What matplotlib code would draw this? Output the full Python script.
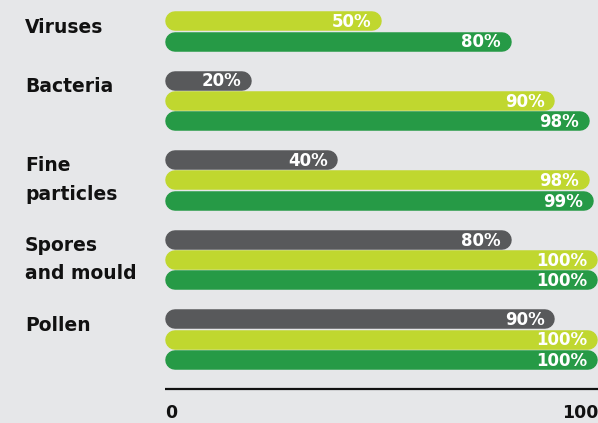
import matplotlib.pyplot as plt
import numpy as np

# data
categories = ['Viruses', 'Bacteria', 'Fine\nparticles', 'Spores\nand mould', 'Pollen']
grey_vals = [np.nan, 20, 40, 80, 90]
light_vals = [50, 90, 98, 100, 100]
green_vals = [80, 98, 99, 100, 100]
tick_vals = [0, 100]

bg = '#e6e7e9'
colors = ['#58595b', '#c0d72f', '#269a46']

W, H = 598, 423
fig = plt.figure(figsize=(W / 100, H / 100), dpi=100, facecolor=bg)
ax = fig.add_axes([0, 0, 1, 1])
ax.set_facecolor(bg)
ax.axis('off')

# pixel layout: value 0 at x=165, 100 at x=598; one bar row = 20.3 px
x0_px, x100_px = 165, 598
px_per_unit = (x100_px - x0_px) / 100
row_px = 20.3
ax.set_xlim(-x0_px / px_per_unit, (W - x0_px) / px_per_unit)
ax.set_ylim((H - 1) / row_px, -1 / row_px)

group_pitch = 3.92
bar_px = 19.5
cap = (bar_px / 2) / px_per_unit  # round cap radius in data units

for g, cat in enumerate(categories):
    base = g * group_pitch
    for slot, (vals, col) in enumerate(zip([grey_vals, light_vals, green_vals], colors)):
        v = vals[g]
        if np.isnan(v):
            continue
        y = base + slot
        ax.plot([cap, v - cap], [y, y], color=col, lw=bar_px * 0.72,
                solid_capstyle='round', zorder=2 + slot)
        ax.text(v - 9 / px_per_unit - 0.3, y + 0.04, f'{v:g}%', color='white',
                fontsize=12, fontweight='bold', ha='right', va='center',
                zorder=10)
    first = base + (1 if np.isnan(grey_vals[g]) else 0)
    ax.text(-140 / px_per_unit, first - 0.18, cat, fontsize=13.5,
            fontweight='bold', color='#111111', ha='left', va='top',
            linespacing=1.62)

# baseline and end ticks
axis_y = (389 - 1) / row_px
ax.plot([0, 100], [axis_y, axis_y], color='#111111', lw=1.6, solid_capstyle='butt')
label_y = (413 - 1) / row_px
ax.text(tick_vals[0], label_y, f'{tick_vals[0]}', fontsize=12.5, fontweight='bold',
        ha='left', va='center', color='#111111')
ax.text(tick_vals[1], label_y, f'{tick_vals[1]}', fontsize=12.5, fontweight='bold',
        ha='right', va='center', color='#111111')

fig.savefig('out.png', dpi=100, facecolor=bg)
